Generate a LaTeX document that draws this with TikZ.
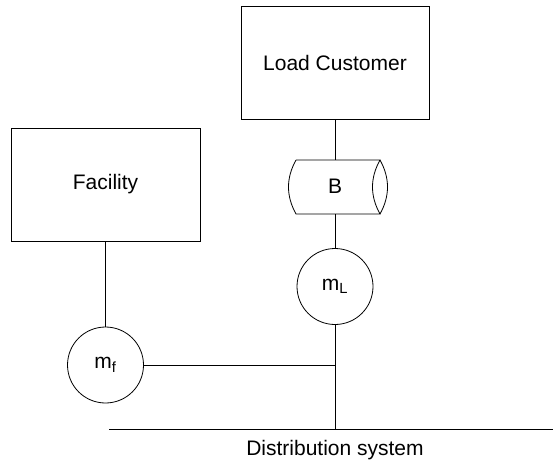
\documentclass[tikz,border=0pt]{standalone}
\usepackage{fontspec}
\setmainfont{Liberation Sans}
\tikzset{
  x=1pt,y=-1pt,
  ln/.style={draw=black,line width=0.8pt},
  boxnode/.style={ln,rectangle,inner sep=0pt,fill=white,font=\fontsize{21}{25}\selectfont},
  meter/.style={ln,circle,minimum size=76pt,inner sep=0pt,fill=white,font=\fontsize{21}{25}\selectfont},
  lbl/.style={font=\fontsize{21}{25}\selectfont,inner sep=0pt}
}
\begin{document}
\begin{tikzpicture}
\useasboundingbox (0,0) rectangle (553,465);
\node[boxnode,minimum width=188pt,minimum height=113pt] (load) at (335,62.5) {Load Customer};
\node[boxnode,minimum width=189pt,minimum height=113pt] (fac) at (105.5,184.5) {Facility};
\node[meter] (ml) at (335,286.5) {m\textsubscript{L}};
\node[meter] (mf) at (105.5,365) {m\textsubscript{f}};
\coordinate (btl) at (296,160);
\coordinate (btr) at (380,160);
\coordinate (bbl) at (296,214);
\coordinate (bbr) at (380,214);
\draw[ln] (btl) -- (btr) .. controls (370,178) and (370,196) .. (bbr) -- (bbl)
  .. controls (286,196) and (286,178) .. (btl);
\draw[ln] (btr) .. controls (390,178) and (390,196) .. (bbr);
\node[lbl] (b) at (335,186) {B};
\coordinate (bt) at (335,160);
\coordinate (bb) at (335,214);
\coordinate (jn) at (335,365);
\coordinate (bus) at (335,429);
\coordinate (busl) at (109,429);
\coordinate (busr) at (553,429);
\draw[ln] (load.south) -- (bt);
\draw[ln] (bb) -- (ml.north);
\draw[ln] (ml.south) -- (bus);
\draw[ln] (fac.south) -- (mf.north);
\draw[ln] (mf.east) -- (jn);
\draw[ln] (busl) -- (busr);
\node[lbl] (dist) at (335,450) {Distribution system};
\end{tikzpicture}
\end{document}
